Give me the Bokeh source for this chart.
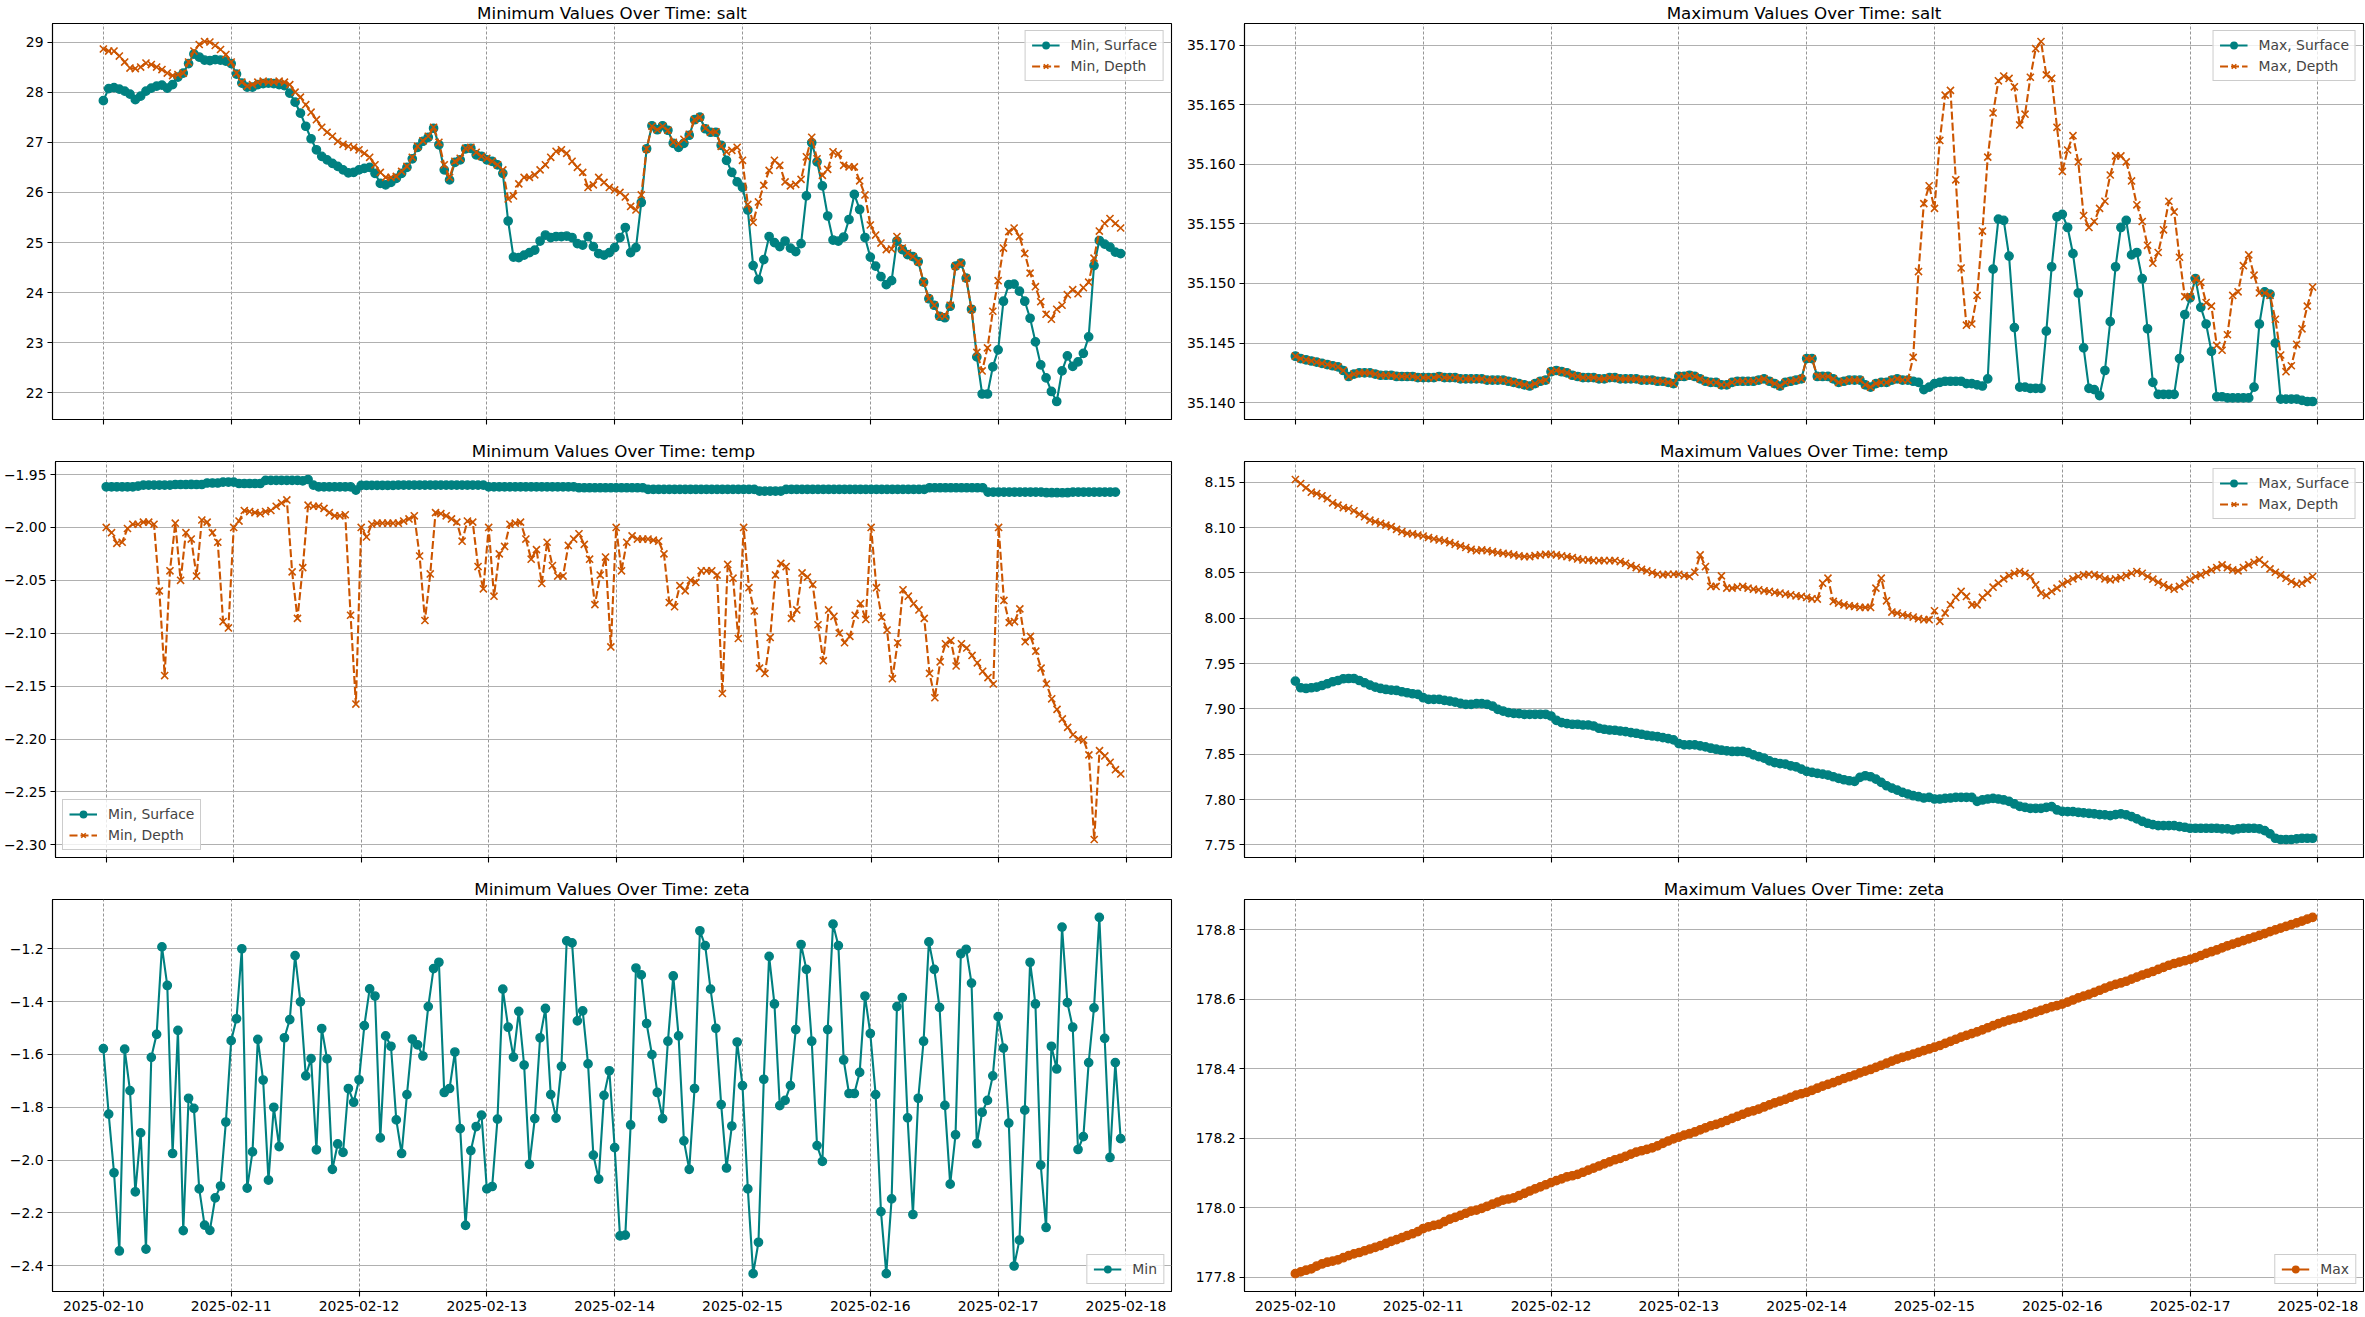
import numpy as np
import pandas as pd
from bokeh.plotting import figure
from bokeh.models import (Range1d, FixedTicker, DatetimeTickFormatter,
                          CustomJSTickFormatter, Legend, LegendItem)
from bokeh.layouts import column, row
from bokeh.embed import file_html
from bokeh.resources import INLINE

# ---------------- data (hourly, starting 2025-02-10 00:00) ----------------
START = "2025-02-10"
DAY_TICKS = ["2025-02-10", "2025-02-11", "2025-02-12", "2025-02-13", "2025-02-14",
             "2025-02-15", "2025-02-16", "2025-02-17", "2025-02-18"]

salt_min_surface = [
    27.83, 28.07, 28.09, 28.06, 28.02, 27.96, 27.85, 27.92, 28.02, 28.08, 28.12, 28.14, 28.08, 28.15, 28.30, 28.38,
    28.57, 28.76, 28.70, 28.64, 28.63, 28.65, 28.64, 28.62, 28.57,
    28.36, 28.18, 28.10, 28.10, 28.15, 28.17, 28.18, 28.17, 28.15, 28.13, 27.98, 27.80, 27.58, 27.32, 27.07, 26.85,
    26.72, 26.65, 26.58, 26.52, 26.45, 26.39, 26.40, 26.45,
    26.48, 26.50, 26.38, 26.18, 26.15, 26.20, 26.28, 26.38, 26.50, 26.67, 26.90, 27.02, 27.10, 27.28, 26.95, 26.45,
    26.25, 26.60, 26.65, 26.87, 26.88, 26.75, 26.72, 26.65,
    26.62, 26.55, 26.38, 25.43, 24.71, 24.70, 24.75, 24.80, 24.85, 25.03, 25.15, 25.10, 25.12, 25.12, 25.13, 25.10,
    24.98, 24.95, 25.12, 24.92, 24.78, 24.75, 24.80, 24.90,
    25.10, 25.30, 24.80, 24.90, 25.80, 26.87, 27.33, 27.25, 27.33, 27.24,
    26.98, 26.90, 26.98, 27.14, 27.45, 27.50, 27.27, 27.20, 27.20, 26.94,
    26.64, 26.40, 26.21, 26.10, 25.65, 24.54, 24.26, 24.66, 25.12, 25.00,
    24.92, 25.03, 24.89, 24.82, 24.98, 25.93, 26.99, 26.61, 26.13, 25.53,
    25.05, 25.03, 25.11, 25.46, 25.96, 25.66, 25.10, 24.71, 24.53, 24.32,
    24.16, 24.24, 25.03, 24.86, 24.76, 24.72, 24.62, 24.21, 23.88, 23.75,
    23.53, 23.50, 23.73, 24.53, 24.59, 24.29, 23.67, 22.72, 21.98, 21.98,
    22.52, 22.86, 23.83, 24.16, 24.17, 24.03, 23.83, 23.49, 23.02, 22.56,
    22.30, 22.03, 21.83, 22.44, 22.74, 22.53, 22.62, 22.79, 23.12, 24.54,
    25.04, 24.97, 24.91, 24.81, 24.78]

salt_min_depth = [
    28.86, 28.82, 28.82, 28.72, 28.60, 28.48, 28.47, 28.50, 28.58, 28.55, 28.50, 28.45, 28.38, 28.33, 28.35, 28.38,
    28.60, 28.82, 28.95, 29.01, 29.00, 28.93, 28.85, 28.75, 28.60,
    28.38, 28.20, 28.12, 28.15, 28.20, 28.22, 28.20, 28.20, 28.22, 28.20, 28.15, 28.00, 27.90, 27.75, 27.60, 27.45,
    27.30, 27.20, 27.12, 27.02, 26.96, 26.92, 26.90, 26.85,
    26.78, 26.70, 26.55, 26.40, 26.30, 26.30, 26.32, 26.42, 26.52, 26.70, 26.92, 27.03, 27.12, 27.30, 27.00, 26.55,
    26.30, 26.62, 26.68, 26.88, 26.90, 26.80, 26.72, 26.68,
    26.62, 26.55, 26.45, 25.87, 25.93, 26.17, 26.30, 26.30, 26.35, 26.45, 26.55, 26.70, 26.82, 26.85, 26.78, 26.62,
    26.50, 26.40, 26.10, 26.15, 26.30, 26.20, 26.10, 26.05,
    26.00, 25.91, 25.72, 25.65, 25.95, 26.87, 27.32, 27.25, 27.32, 27.24,
    27.00, 26.97, 27.06, 27.16, 27.45, 27.50, 27.28, 27.20, 27.21, 26.92,
    26.81, 26.84, 26.90, 26.64, 25.76, 25.40, 25.81, 26.14, 26.44, 26.64,
    26.54, 26.21, 26.13, 26.16, 26.26, 26.71, 27.10, 26.67, 26.34, 26.46,
    26.81, 26.77, 26.54, 26.51, 26.51, 26.23, 25.95, 25.35, 25.15, 24.99,
    24.86, 24.87, 25.12, 24.89, 24.79, 24.72, 24.62, 24.21, 23.88, 23.75,
    23.53, 23.53, 23.75, 24.53, 24.59, 24.29, 23.67, 22.81, 22.44, 22.90,
    23.63, 24.24, 24.89, 25.22, 25.29, 25.12, 24.78, 24.39, 24.12, 23.82,
    23.57, 23.47, 23.67, 23.75, 23.96, 24.06, 23.98, 24.10, 24.21, 24.69,
    25.23, 25.38, 25.48, 25.38, 25.29]

salt_max_common = [
    35.1439, 35.1437, 35.1436, 35.1435, 35.1434, 35.1433, 35.1432, 35.1431, 35.1430, 35.1427,
    35.1422, 35.1424, 35.1425, 35.1425, 35.1425, 35.1424, 35.1423, 35.1423, 35.1423, 35.1422,
    35.1422, 35.1422, 35.1422, 35.1421, 35.1421, 35.1421, 35.1421, 35.1422, 35.1421, 35.1421,
    35.1421, 35.1420, 35.1420, 35.1420, 35.1420, 35.1420, 35.1419, 35.1419, 35.1419, 35.1419,
    35.1418, 35.1417, 35.1416, 35.1415, 35.1414, 35.1416, 35.1418, 35.1419, 35.1426, 35.1427,
    35.1426, 35.1425, 35.1423, 35.1422, 35.1421, 35.1421, 35.1421, 35.1420, 35.1420, 35.1421,
    35.1421, 35.1420, 35.1420, 35.1420, 35.1420, 35.1419, 35.1419, 35.1419, 35.1418, 35.1418,
    35.1417, 35.1416, 35.1422, 35.1422, 35.1423, 35.1422, 35.1420, 35.1418, 35.1417, 35.1417,
    35.1415, 35.1415, 35.1417, 35.1418, 35.1418, 35.1418, 35.1418, 35.1419, 35.1420, 35.1418,
    35.1416, 35.1414, 35.1417, 35.1418, 35.1419, 35.1420, 35.1437, 35.1437, 35.1422, 35.1422,
    35.1422, 35.1420, 35.1417, 35.1418, 35.1419, 35.1419, 35.1419, 35.1415, 35.1413, 35.1416,
    35.1417, 35.1417, 35.1419, 35.1420, 35.1419, 35.1419]

salt_max_surface_tail = [
    35.1418, 35.1417, 35.1411, 35.1413, 35.1416, 35.1417, 35.1418, 35.1418, 35.1418, 35.1418,
    35.1416, 35.1416, 35.1415, 35.1414, 35.1420, 35.1512, 35.1554, 35.1553, 35.1523, 35.1463,
    35.1413, 35.1413, 35.1412, 35.1412, 35.1412, 35.1460, 35.1514, 35.1556, 35.1558, 35.1547,
    35.1525, 35.1492, 35.1446, 35.1412, 35.1411, 35.1406, 35.1427, 35.1468, 35.1514, 35.1547,
    35.1553, 35.1524, 35.1526, 35.1504, 35.1462, 35.1417, 35.1407, 35.1407, 35.1407, 35.1407,
    35.1437, 35.1474, 35.1488, 35.1504, 35.1480, 35.1466, 35.1443, 35.1405, 35.1405, 35.1404,
    35.1404, 35.1404, 35.1404, 35.1404, 35.1413, 35.1466, 35.1493, 35.1491, 35.1450, 35.1403,
    35.1403, 35.1403, 35.1403, 35.1402, 35.1401, 35.1401]

salt_max_depth_tail = [
    35.1438, 35.1510, 35.1567, 35.1582, 35.1563, 35.1620, 35.1658, 35.1662, 35.1587, 35.1513,
    35.1465, 35.1466, 35.1490, 35.1544, 35.1606, 35.1643, 35.1670, 35.1674, 35.1672, 35.1665,
    35.1633, 35.1642, 35.1673, 35.1697, 35.1703, 35.1675, 35.1672, 35.1631, 35.1594, 35.1612,
    35.1624, 35.1602, 35.1557, 35.1547, 35.1552, 35.1563, 35.1569, 35.1591, 35.1607, 35.1607,
    35.1602, 35.1586, 35.1566, 35.1552, 35.1532, 35.1517, 35.1526, 35.1545, 35.1569, 35.1560,
    35.1522, 35.1489, 35.1489, 35.1504, 35.1501, 35.1484, 35.1481, 35.1448, 35.1444, 35.1457,
    35.1490, 35.1493, 35.1515, 35.1524, 35.1507, 35.1492, 35.1492, 35.1490, 35.1470, 35.1440,
    35.1426, 35.1431, 35.1449, 35.1462, 35.1481, 35.1497]

salt_max_surface = salt_max_common + salt_max_surface_tail
salt_max_depth = salt_max_common + salt_max_depth_tail

temp_min_surface = (
    [-1.9616] * 6 + [-1.9610] + [-1.9600] * 6 + [-1.9594] * 6 + [-1.9580] * 3 + [-1.9572] * 3
    + [-1.9585] * 5 + [-1.9555] * 7 + [-1.9560, -1.9547, -1.9600] + [-1.9616] * 7 + [-1.9647]
    + [-1.9603] * 7 + [-1.9600] * 17 + [-1.9616] * 17 + [-1.9625] * 13 + [-1.9641] * 21
    + [-1.9657] * 5 + [-1.9641] * 27 + [-1.9625] * 11 + [-1.9666] * 11 + [-1.9672] * 5 + [-1.9666] * 9)

temp_min_depth = [
    -2.000, -2.005, -2.015, -2.014, -2.001, -1.997, -1.997, -1.995, -1.995, -1.997,
    -2.060, -2.140, -2.041, -1.996, -2.050, -2.005, -2.011, -2.046, -1.993, -1.995,
    -2.005, -2.014, -2.089, -2.095, -2.000, -1.994, -1.984, -1.985, -1.986, -1.987,
    -1.985, -1.984, -1.980, -1.977, -1.974, -2.042, -2.086, -2.038, -1.979, -1.980,
    -1.980, -1.982, -1.986, -1.989, -1.989, -1.988, -2.083, -2.167, -2.000, -2.009,
    -1.997, -1.996, -1.996, -1.996, -1.996, -1.996, -1.994, -1.992, -1.989, -2.027,
    -2.088, -2.044, -1.986, -1.987, -1.989, -1.992, -1.995, -2.013, -1.994, -1.995,
    -2.037, -2.058, -2.000, -2.065, -2.025, -2.018, -1.997, -1.996, -1.995, -2.011,
    -2.030, -2.021, -2.053, -2.014, -2.036, -2.046, -2.046, -2.017, -2.011, -2.006,
    -2.016, -2.030, -2.073, -2.045, -2.028, -2.113, -2.000, -2.041, -2.014, -2.008,
    -2.011, -2.011, -2.011, -2.012, -2.013, -2.025, -2.071, -2.075, -2.055, -2.060,
    -2.050, -2.052, -2.041, -2.041, -2.041, -2.045, -2.157, -2.035, -2.048, -2.105,
    -2.000, -2.057, -2.079, -2.133, -2.138, -2.104, -2.045, -2.034, -2.037, -2.086,
    -2.078, -2.043, -2.047, -2.054, -2.092, -2.126, -2.078, -2.084, -2.100, -2.109,
    -2.103, -2.083, -2.072, -2.087, -2.000, -2.057, -2.085, -2.097, -2.143, -2.109,
    -2.059, -2.065, -2.072, -2.078, -2.086, -2.138, -2.161, -2.127, -2.110, -2.107,
    -2.131, -2.110, -2.114, -2.121, -2.128, -2.136, -2.142, -2.148, -2.000, -2.069,
    -2.090, -2.089, -2.077, -2.108, -2.103, -2.117, -2.133, -2.148, -2.162, -2.172,
    -2.181, -2.189, -2.196, -2.200, -2.201, -2.215, -2.295, -2.211, -2.216, -2.222,
    -2.229, -2.233]

temp_max_surface = [
    7.9306, 7.9233, 7.9225, 7.9233, 7.9240, 7.9258, 7.9277, 7.9299, 7.9313, 7.9332,
    7.9335, 7.9335, 7.9313, 7.9288, 7.9262, 7.9240, 7.9225, 7.9214, 7.9207, 7.9203,
    7.9189, 7.9178, 7.9167, 7.9159, 7.9123, 7.9104, 7.9104, 7.9104, 7.9093, 7.9086,
    7.9075, 7.9060, 7.9050, 7.9050, 7.9057, 7.9057, 7.9050, 7.9031, 7.8995, 7.8976,
    7.8958, 7.8951, 7.8947, 7.8940, 7.8940, 7.8940, 7.8940, 7.8940, 7.8921, 7.8874,
    7.8848, 7.8837, 7.8830, 7.8830, 7.8822, 7.8822, 7.8811, 7.8786, 7.8775, 7.8767,
    7.8764, 7.8756, 7.8749, 7.8738, 7.8731, 7.8720, 7.8709, 7.8701, 7.8694, 7.8683,
    7.8672, 7.8658, 7.8617, 7.8603, 7.8603, 7.8603, 7.8592, 7.8581, 7.8566, 7.8555,
    7.8544, 7.8537, 7.8530, 7.8530, 7.8530, 7.8518, 7.8493, 7.8474, 7.8456, 7.8427,
    7.8408, 7.8397, 7.8390, 7.8372, 7.8361, 7.8335, 7.8310, 7.8299, 7.8288, 7.8280,
    7.8270, 7.8251, 7.8233, 7.8218, 7.8207, 7.8200, 7.8244, 7.8262, 7.8251, 7.8225,
    7.8189, 7.8152, 7.8126, 7.8104, 7.8079, 7.8061, 7.8042, 7.8031, 7.8017, 7.8024,
    7.8006, 7.8006, 7.8013, 7.8017, 7.8024, 7.8024, 7.8024, 7.8024, 7.7980, 7.7995,
    7.8006, 7.8013, 7.8006, 7.7995, 7.7980, 7.7951, 7.7925, 7.7914, 7.7903, 7.7903,
    7.7903, 7.7914, 7.7921, 7.7885, 7.7870, 7.7867, 7.7867, 7.7859, 7.7852, 7.7848,
    7.7841, 7.7833, 7.7830, 7.7822, 7.7833, 7.7841, 7.7830, 7.7812, 7.7786, 7.7760,
    7.7738, 7.7723, 7.7712, 7.7712, 7.7712, 7.7712, 7.7701, 7.7694, 7.7683, 7.7683,
    7.7683, 7.7683, 7.7683, 7.7683, 7.7676, 7.7676, 7.7665, 7.7676, 7.7683, 7.7683,
    7.7683, 7.7676, 7.7657, 7.7621, 7.7573, 7.7559, 7.7559, 7.7559, 7.7566, 7.7573,
    7.7573, 7.7573]

temp_max_depth = [
    8.1530, 8.1485, 8.1438, 8.1390, 8.1375, 8.1350, 8.1320, 8.1273, 8.1247, 8.1220,
    8.1210, 8.1185, 8.1148, 8.1120, 8.1082, 8.1064, 8.1046, 8.1027, 8.1010, 8.0980,
    8.0954, 8.0936, 8.0930, 8.0918, 8.0907, 8.0890, 8.0874, 8.0863, 8.0852, 8.0833,
    8.0815, 8.0797, 8.0780, 8.0760, 8.0745, 8.0753, 8.0745, 8.0734, 8.0723, 8.0716,
    8.0709, 8.0698, 8.0687, 8.0680, 8.0680, 8.0690, 8.0698, 8.0705, 8.0705, 8.0698,
    8.0687, 8.0680, 8.0668, 8.0654, 8.0643, 8.0643, 8.0636, 8.0636, 8.0636, 8.0636,
    8.0636, 8.0625, 8.0606, 8.0580, 8.0559, 8.0540, 8.0522, 8.0504, 8.0485, 8.0478,
    8.0485, 8.0485, 8.0485, 8.0470, 8.0460, 8.0507, 8.0698, 8.0570, 8.0350, 8.0350,
    8.0467, 8.0332, 8.0332, 8.0342, 8.0350, 8.0332, 8.0320, 8.0313, 8.0302, 8.0295,
    8.0284, 8.0277, 8.0266, 8.0258, 8.0247, 8.0240, 8.0229, 8.0214, 8.0211, 8.0386,
    8.0441, 8.0185, 8.0167, 8.0148, 8.0137, 8.0130, 8.0119, 8.0119, 8.0119, 8.0332,
    8.0441, 8.0192, 8.0068, 8.0057, 8.0038, 8.0027, 8.0013, 7.9995, 7.9984, 7.9984,
    8.0082, 7.9966, 8.0057, 8.0148, 8.0229, 8.0295, 8.0240, 8.0148, 8.0148, 8.0229,
    8.0277, 8.0342, 8.0386, 8.0434, 8.0470, 8.0496, 8.0515, 8.0496, 8.0460, 8.0368,
    8.0277, 8.0251, 8.0295, 8.0332, 8.0375, 8.0405, 8.0434, 8.0460, 8.0478, 8.0485,
    8.0478, 8.0460, 8.0434, 8.0423, 8.0434, 8.0449, 8.0470, 8.0496, 8.0515, 8.0496,
    8.0460, 8.0430, 8.0397, 8.0368, 8.0339, 8.0320, 8.0350, 8.0386, 8.0423, 8.0460,
    8.0478, 8.0504, 8.0533, 8.0559, 8.0588, 8.0559, 8.0533, 8.0522, 8.0559, 8.0588,
    8.0617, 8.0643, 8.0595, 8.0544, 8.0507, 8.0478, 8.0441, 8.0405, 8.0375, 8.0386,
    8.0423, 8.0460]

zeta_min = [
    -1.578, -1.826, -2.048, -2.344, -1.580, -1.737, -2.120, -1.897, -2.337, -1.611,
    -1.524, -1.193, -1.339, -1.975, -1.509, -2.267, -1.766, -1.804, -2.109, -2.246,
    -2.266, -2.143, -2.098, -1.856, -1.548, -1.465, -1.200, -2.106, -1.969, -1.543,
    -1.697, -2.076, -1.800, -1.949, -1.537, -1.468, -1.226, -1.401, -1.681, -1.616,
    -1.961, -1.502, -1.617, -2.035, -1.939, -1.971, -1.729, -1.781, -1.696, -1.491,
    -1.352, -1.379, -1.916, -1.530, -1.569, -1.848, -1.975, -1.752, -1.542, -1.564,
    -1.606, -1.419, -1.275, -1.251, -1.744, -1.729, -1.591, -1.881, -2.247, -1.964,
    -1.873, -1.830, -2.109, -2.100, -1.845, -1.353, -1.497, -1.610, -1.437, -1.640,
    -2.016, -1.843, -1.537, -1.426, -1.752, -1.841, -1.645, -1.170, -1.178, -1.473,
    -1.435, -1.636, -1.981, -2.072, -1.755, -1.662, -1.953, -2.287, -2.284, -1.867,
    -1.273, -1.299, -1.483, -1.601, -1.744, -1.843, -1.550, -1.303, -1.530, -1.927,
    -2.035, -1.729, -1.132, -1.188, -1.353, -1.501, -1.790, -2.030, -1.871, -1.553,
    -1.718, -2.109, -2.430, -2.311, -1.694, -1.229, -1.409, -1.794, -1.774, -1.718,
    -1.506, -1.184, -1.278, -1.550, -1.945, -2.005, -1.506, -1.107, -1.188, -1.621,
    -1.748, -1.748, -1.668, -1.379, -1.521, -1.752, -2.195, -2.430, -2.147, -1.419,
    -1.385, -1.840, -2.206, -1.766, -1.550, -1.174, -1.278, -1.422, -1.793, -2.091,
    -1.904, -1.219, -1.202, -1.330, -1.938, -1.819, -1.774, -1.681, -1.457, -1.576,
    -1.860, -2.401, -2.303, -1.811, -1.251, -1.409, -2.019, -2.255, -1.569, -1.655,
    -1.118, -1.404, -1.497, -1.960, -1.911, -1.631, -1.424, -1.081, -1.539, -1.990,
    -1.631, -1.919]

zeta_max = [
    177.810, 177.815, 177.820, 177.824, 177.832, 177.838, 177.843, 177.846, 177.850, 177.856, 177.862, 177.867,
    177.871, 177.876, 177.881, 177.886, 177.891, 177.897, 177.903, 177.908, 177.914, 177.920, 177.925, 177.931,
    177.940, 177.945, 177.949, 177.952, 177.960, 177.967, 177.972, 177.978, 177.984, 177.990, 177.993, 177.998,
    178.004, 178.010, 178.016, 178.022, 178.025, 178.028, 178.035, 178.041, 178.048, 178.054, 178.060, 178.066,
    178.072, 178.078, 178.083, 178.089, 178.092, 178.096, 178.102, 178.108, 178.114, 178.120, 178.126, 178.132,
    178.138, 178.142, 178.148, 178.154, 178.160, 178.164, 178.168, 178.172, 178.178, 178.185, 178.192, 178.198,
    178.203, 178.209, 178.213, 178.218, 178.224, 178.230, 178.236, 178.240, 178.245, 178.251, 178.257, 178.263,
    178.269, 178.275, 178.279, 178.284, 178.290, 178.296, 178.302, 178.307, 178.312, 178.318, 178.324, 178.328,
    178.332, 178.338, 178.344, 178.350, 178.355, 178.360, 178.366, 178.372, 178.377, 178.382, 178.388, 178.393,
    178.398, 178.404, 178.410, 178.416, 178.422, 178.428, 178.433, 178.437, 178.442, 178.447, 178.452, 178.457,
    178.462, 178.467, 178.473, 178.479, 178.485, 178.491, 178.496, 178.501, 178.506, 178.512, 178.518, 178.524,
    178.530, 178.535, 178.540, 178.544, 178.548, 178.553, 178.558, 178.563, 178.568, 178.573, 178.578, 178.582,
    178.586, 178.592, 178.598, 178.604, 178.609, 178.614, 178.620, 178.626, 178.632, 178.638, 178.643, 178.647,
    178.652, 178.658, 178.664, 178.670, 178.675, 178.680, 178.686, 178.692, 178.698, 178.703, 178.707, 178.711,
    178.715, 178.720, 178.726, 178.732, 178.737, 178.742, 178.748, 178.754, 178.759, 178.764, 178.769, 178.774,
    178.779, 178.784, 178.789, 178.795, 178.800, 178.805, 178.810, 178.815, 178.820, 178.825, 178.831, 178.836]

salt_min_ticks = [22, 23, 24, 25, 26, 27, 28, 29]
salt_max_ticks = [35.140, 35.145, 35.150, 35.155, 35.160, 35.165, 35.170]
temp_min_ticks = [-2.30, -2.25, -2.20, -2.15, -2.10, -2.05, -2.00, -1.95]
temp_max_ticks = [7.75, 7.80, 7.85, 7.90, 7.95, 8.00, 8.05, 8.10, 8.15]
zeta_min_ticks = [-2.4, -2.2, -2.0, -1.8, -1.6, -1.4, -1.2]
zeta_max_ticks = [177.8, 178.0, 178.2, 178.4, 178.6, 178.8]

# ---------------- style ----------------
TEAL = "#008080"
ORANGE = "#cc5500"
FONT = "DejaVu Sans"
TICK_PX = "13.9px"
LW = 2.1
MS = 8.3

t0 = pd.Timestamp(START)
N_ALL = 192
pad_h = 0.05 * (N_ALL - 1)
x_lo = t0 - pd.Timedelta(hours=pad_h)
x_hi = t0 + pd.Timedelta(hours=(N_ALL - 1) + pad_h)
day_ms = [pd.Timestamp(d).value / 1e6 for d in DAY_TICKS]


def times(vals):
    return t0 + pd.to_timedelta(np.arange(len(vals)), unit="h")


def make_fig(title, width, height, bl, br, bb, show_x, yticks, ydec, series, legend_loc):
    allv = np.concatenate([np.asarray(s["y"], float) for s in series])
    lo, hi = allv.min(), allv.max()
    pad = 0.05 * (hi - lo)
    p = figure(width=width, height=height, x_axis_type="datetime",
               x_range=Range1d(x_lo, x_hi), y_range=Range1d(lo - pad, hi + pad),
               toolbar_location=None, output_backend="svg",
               min_border_left=bl, min_border_right=br, min_border_top=21,
               min_border_bottom=bb, background_fill_color="white",
               border_fill_color="white")
    p.title.text = title
    p.title.align = "center"
    p.title.text_font = FONT
    p.title.text_font_size = "16.7px"
    p.title.text_font_style = "normal"
    p.title.text_color = "black"
    p.title.standoff = 1

    p.outline_line_color = "black"
    p.outline_line_width = 1.1
    p.outline_line_alpha = 1.0

    p.xaxis.ticker = FixedTicker(ticks=day_ms)
    fmt = "%Y-%m-%d"
    p.xaxis.formatter = DatetimeTickFormatter(days=fmt, months=fmt, hours=fmt, years=fmt,
                                              hourmin=fmt, minutes=fmt, minsec=fmt,
                                              seconds=fmt, milliseconds=fmt,
                                              microseconds=fmt)
    p.yaxis.ticker = FixedTicker(ticks=yticks)
    p.yaxis.formatter = CustomJSTickFormatter(
        args=dict(d=ydec),
        code="const s = Math.abs(tick).toFixed(d); return (tick < -1e-9 ? '\\u2212' : '') + s;")

    for ax in (p.xaxis[0], p.yaxis[0]):
        ax.axis_line_color = "black"
        ax.axis_line_width = 1.1
        ax.major_tick_line_color = "black"
        ax.major_tick_line_width = 1.1
        ax.major_tick_out = 5
        ax.major_tick_in = 0
        ax.minor_tick_line_color = None
        ax.major_label_text_font = FONT
        ax.major_label_text_font_size = TICK_PX
        ax.major_label_text_color = "black"
        ax.major_label_standoff = 4
    if not show_x:
        # shared x axis: ticks only, labels not drawn
        p.xaxis.major_label_text_color = None
        p.xaxis.major_label_text_font_size = "1px"
        p.xaxis.major_label_standoff = 0

    p.ygrid.grid_line_color = "#b0b0b0"
    p.ygrid.grid_line_width = 1.1
    p.xgrid.grid_line_color = "#8a8a8a"
    p.xgrid.grid_line_width = 0.9
    p.xgrid.grid_line_dash = "3 2"

    items = []
    for s in series:
        x = times(s["y"])
        lr = p.line(x, s["y"], line_color=s["color"], line_width=LW,
                    line_dash=s.get("dash", "solid"))
        if s["marker"] == "x":
            mr = p.scatter(x, s["y"], marker="x", size=10, line_color=s["color"], line_width=1.6)
        else:
            mr = p.scatter(x, s["y"], marker="circle", size=MS, fill_color=s["color"],
                           line_color=s["color"], line_width=1.4)
        items.append(LegendItem(label=s["label"], renderers=[lr, mr]))

    leg = Legend(items=items, location=legend_loc, margin=7, padding=6, spacing=5,
                 glyph_width=28, glyph_height=16, label_height=16, label_standoff=11,
                 label_text_font=FONT, label_text_font_size=TICK_PX,
                 border_line_color="#cccccc", border_line_width=1, border_line_alpha=1.0,
                 background_fill_color="white", background_fill_alpha=0.8)
    p.add_layout(leg, "center")
    return p


# layout: page content starts at (0, 0)
LW_W, RW_W = 1178, 1186
LB, LR = 52, 7
RB, RR = 66, 1
H12, H3 = 438, 440

f1 = make_fig("Minimum Values Over Time: salt", LW_W, H12, LB, LR, 19, False, salt_min_ticks, 0,
              [dict(y=salt_min_surface, color=TEAL, marker="o", label="Min, Surface"),
               dict(y=salt_min_depth, color=ORANGE, marker="x", dash="8 3", label="Min, Depth")],
              "top_right")
f2 = make_fig("Maximum Values Over Time: salt", RW_W, H12, RB, RR, 19, False, salt_max_ticks, 3,
              [dict(y=salt_max_surface, color=TEAL, marker="o", label="Max, Surface"),
               dict(y=salt_max_depth, color=ORANGE, marker="x", dash="8 3", label="Max, Depth")],
              "top_right")
f3 = make_fig("Minimum Values Over Time: temp", LW_W, H12, LB, LR, 19, False, temp_min_ticks, 2,
              [dict(y=temp_min_surface, color=TEAL, marker="o", label="Min, Surface"),
               dict(y=temp_min_depth, color=ORANGE, marker="x", dash="8 3", label="Min, Depth")],
              "bottom_left")
f4 = make_fig("Maximum Values Over Time: temp", RW_W, H12, RB, RR, 19, False, temp_max_ticks, 2,
              [dict(y=temp_max_surface, color=TEAL, marker="o", label="Max, Surface"),
               dict(y=temp_max_depth, color=ORANGE, marker="x", dash="8 3", label="Max, Depth")],
              "top_right")
f5 = make_fig("Minimum Values Over Time: zeta", LW_W, H3, LB, LR, 25, True, zeta_min_ticks, 1,
              [dict(y=zeta_min, color=TEAL, marker="o", label="Min")],
              "bottom_right")
f6 = make_fig("Maximum Values Over Time: zeta", RW_W, H3, RB, RR, 25, True, zeta_max_ticks, 1,
              [dict(y=zeta_max, color=ORANGE, marker="o", label="Max")],
              "bottom_right")

layout = column(row(f1, f2, spacing=0), row(f3, f4, spacing=0), row(f5, f6, spacing=0), spacing=0)

with open("out.html", "w") as fh:
    fh.write(file_html(layout, INLINE))
